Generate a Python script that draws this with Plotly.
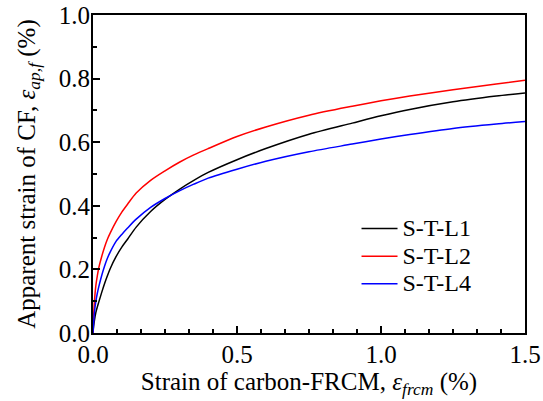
import plotly.graph_objects as go

x_vals = [0, 0.002, 0.005, 0.01, 0.015, 0.02, 0.03, 0.04, 0.05, 0.06, 0.08, 0.1, 0.12,
          0.15, 0.2, 0.25, 0.3, 0.35, 0.4, 0.5, 0.6, 0.75, 0.9, 1.0, 1.1, 1.25, 1.4, 1.5]
l1 = [0, 0.02, 0.04, 0.065, 0.082, 0.097, 0.127, 0.155, 0.18, 0.203, 0.24, 0.27, 0.295,
      0.333, 0.382, 0.42, 0.452, 0.48, 0.505, 0.545, 0.58, 0.625, 0.66, 0.683, 0.703, 0.727, 0.745, 0.755]
l2 = [0, 0.05, 0.1, 0.15, 0.18, 0.205, 0.24, 0.27, 0.295, 0.315, 0.35, 0.38, 0.405,
      0.44, 0.48, 0.51, 0.537, 0.56, 0.58, 0.618, 0.648, 0.685, 0.713, 0.73, 0.745, 0.765, 0.783, 0.795]
l4 = [0, 0.03, 0.065, 0.1, 0.125, 0.145, 0.18, 0.21, 0.235, 0.255, 0.288, 0.31, 0.33,
      0.358, 0.395, 0.423, 0.447, 0.468, 0.487, 0.515, 0.54, 0.57, 0.594, 0.61, 0.624, 0.643, 0.657, 0.665]
names = ["S-T-L1", "S-T-L2", "S-T-L4"]
colors = ["black", "red", "blue"]

FONT = "Liberation Serif"

fig = go.Figure()
for name, ys, c in zip(names, [l1, l2, l4], colors):
    fig.add_trace(go.Scatter(x=x_vals, y=ys, mode="lines",
                             name="<span style='font-size:24px'>" + name + "</span>",
                             line=dict(color=c, width=1.5, shape="spline", smoothing=0.8)))

axis_common = dict(showgrid=False, zeroline=False, showline=True, linecolor="black",
                   linewidth=2, mirror=True, ticks="inside", tickcolor="black",
                   tickwidth=2, ticklen=7, automargin=False,
                   tickfont=dict(family=FONT, size=25, color="black"))

fig.update_xaxes(range=[0, 1.5], tick0=0, dtick=0.5, tickformat=".1f", ticklabelstandoff=-2,
                 minor=dict(dtick=0.5 / 6, ticks="inside", ticklen=4, tickwidth=2, tickcolor="black"),
                 title=dict(text="Strain of carbon-FRCM, <i>ε</i><sub><i>frcm</i></sub> (%)",
                            font=dict(family=FONT, size=25, color="black"), standoff=0),
                 **axis_common)
fig.update_yaxes(range=[0, 1.0], tick0=0, dtick=0.2, tickformat=".1f", ticklabelstandoff=-4,
                 minor=dict(dtick=0.1, ticks="inside", ticklen=4, tickwidth=2, tickcolor="black"),
                 title=dict(text="Apparent strain of CF, <i>ε</i><sub><i>ap,f</i></sub> (%)",
                            font=dict(family=FONT, size=25, color="black"), standoff=16),
                 **axis_common)

fig.update_layout(
    width=543, height=401,
    margin=dict(l=93, r=18, t=15, b=68, autoexpand=False),
    plot_bgcolor="white", paper_bgcolor="white",
    legend=dict(x=0.61, y=0.388, xanchor="left", yanchor="top", itemwidth=36,
                font=dict(family=FONT, size=19, color="black"),
                bgcolor="rgba(0,0,0,0)", tracegroupgap=0),
    showlegend=True,
)

fig.write_html("out.html", config={"displayModeBar": False},
               post_script="document.body.style.margin='0';")
